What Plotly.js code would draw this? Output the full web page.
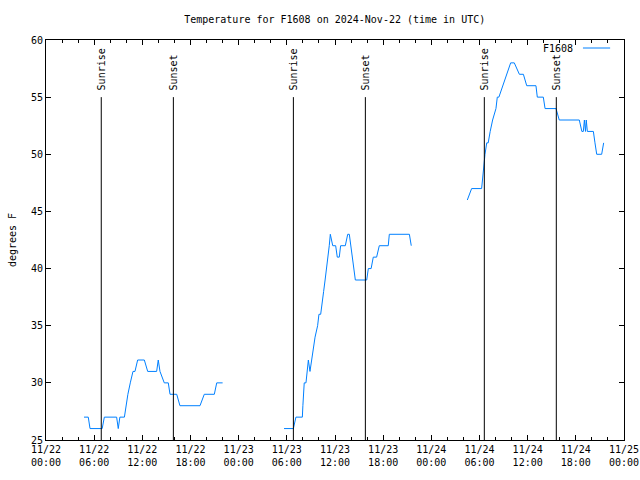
<!DOCTYPE html>
<html>
<head>
<meta charset="utf-8">
<script src="https://cdn.plot.ly/plotly-3.0.1.min.js"></script>
<style>html,body{margin:0;padding:0;background:#fff;}#chart{width:640px;height:480px;}</style>
</head>
<body>
<div id="chart"></div>
<script>
// Temperature readings (F1608), null marks a gap in the record
const times = [
  '2024-11-22 04:44','2024-11-22 05:16','2024-11-22 05:29','2024-11-22 07:00','2024-11-22 07:16','2024-11-22 08:48','2024-11-22 09:00','2024-11-22 09:12','2024-11-22 09:46','2024-11-22 09:58','2024-11-22 10:12','2024-11-22 10:30','2024-11-22 10:50','2024-11-22 11:05','2024-11-22 11:25','2024-11-22 12:15','2024-11-22 12:40','2024-11-22 13:47','2024-11-22 13:59','2024-11-22 14:12','2024-11-22 14:44','2024-11-22 15:14','2024-11-22 15:27','2024-11-22 16:17','2024-11-22 16:41','2024-11-22 19:11','2024-11-22 19:43','2024-11-22 20:58','2024-11-22 21:16','2024-11-22 22:00',
  '2024-11-23 02:00',
  '2024-11-23 05:39','2024-11-23 06:49','2024-11-23 07:08','2024-11-23 07:56','2024-11-23 08:00','2024-11-23 08:03','2024-11-23 08:10','2024-11-23 08:23','2024-11-23 08:33','2024-11-23 08:41','2024-11-23 08:53','2024-11-23 09:05','2024-11-23 09:18','2024-11-23 09:31','2024-11-23 09:50','2024-11-23 10:00','2024-11-23 10:13','2024-11-23 10:26','2024-11-23 10:35','2024-11-23 10:46','2024-11-23 10:58','2024-11-23 11:08','2024-11-23 11:17','2024-11-23 11:25','2024-11-23 11:43','2024-11-23 12:05','2024-11-23 12:17','2024-11-23 12:32','2024-11-23 12:42','2024-11-23 13:17','2024-11-23 13:35','2024-11-23 13:47','2024-11-23 13:57','2024-11-23 14:07','2024-11-23 14:17','2024-11-23 14:32','2024-11-23 15:57','2024-11-23 16:09','2024-11-23 16:30','2024-11-23 16:46','2024-11-23 17:11','2024-11-23 17:31','2024-11-23 18:38','2024-11-23 18:46','2024-11-23 21:16','2024-11-23 21:30',
  '2024-11-24 01:00',
  '2024-11-24 04:29','2024-11-24 05:01','2024-11-24 06:16','2024-11-24 06:23','2024-11-24 06:34','2024-11-24 06:41','2024-11-24 06:54','2024-11-24 07:05','2024-11-24 07:20','2024-11-24 07:38','2024-11-24 08:03','2024-11-24 08:13','2024-11-24 08:25','2024-11-24 08:53','2024-11-24 09:23','2024-11-24 09:53','2024-11-24 10:20','2024-11-24 10:58','2024-11-24 11:28','2024-11-24 11:53','2024-11-24 13:02','2024-11-24 13:12','2024-11-24 13:57','2024-11-24 14:10','2024-11-24 15:32','2024-11-24 15:56','2024-11-24 18:26','2024-11-24 18:45','2024-11-24 18:56','2024-11-24 19:04','2024-11-24 19:12','2024-11-24 19:18','2024-11-24 19:26','2024-11-24 20:11','2024-11-24 20:23','2024-11-24 20:36','2024-11-24 21:13','2024-11-24 21:28'
];
const temps = [
  27,27,26,26,27,27,26,27,27,28,29,30,31,31,32,32,31,31,32,31,30,30,29,29,28,28,29,29,30,30,
  null,
  26,26,27,27,28,29,30,30,31,32,31,32,33,34,35,36,36,37,38,39,40,41,42,43,42,42,41,41,42,42,43,43,42,41,40,39,39,40,40,41,41,42,42,43,43,42,
  null,
  46,47,47,48,49,50,51,51,52,53,54,55,55,56,57,58,58,57,57,56,56,55,55,54,54,53,53,52,52,53,52,53,52,52,51,50,50,51
];
const sunriseTimes = ['2024-11-22 06:53','2024-11-23 06:49','2024-11-24 06:36'];
const sunsetTimes  = ['2024-11-22 15:52','2024-11-23 15:47','2024-11-24 15:34'];
const tickVals = ['2024-11-22 00:00','2024-11-22 06:00','2024-11-22 12:00','2024-11-22 18:00','2024-11-23 00:00','2024-11-23 06:00','2024-11-23 12:00','2024-11-23 18:00','2024-11-24 00:00','2024-11-24 06:00','2024-11-24 12:00','2024-11-24 18:00','2024-11-25 00:00'];
const tickText = ['11/22<br>00:00','11/22<br>06:00','11/22<br>12:00','11/22<br>18:00','11/23<br>00:00','11/23<br>06:00','11/23<br>12:00','11/23<br>18:00','11/24<br>00:00','11/24<br>06:00','11/24<br>12:00','11/24<br>18:00','11/25<br>00:00'];
const yTicks = [25,30,35,40,45,50,55,60];
const seriesName = 'F1608';

const FONT = {family: 'DejaVu Sans Mono, Liberation Mono, monospace', size: 10, color: '#000'};
const LINE_COLOR = 'rgb(0,128,255)';

const shapes = [];
const annotations = [];
function addMarker(t, label) {
  shapes.push({type: 'line', xref: 'x', yref: 'y', x0: t, x1: t, y0: 25, y1: 55,
    line: {color: '#000', width: 1}});
  annotations.push({x: t, y: 55, xref: 'x', yref: 'y', text: label, showarrow: false,
    textangle: -90, xanchor: 'center', yanchor: 'bottom', yshift: 5, font: FONT});
}
sunriseTimes.forEach(t => addMarker(t, 'Sunrise'));
sunsetTimes.forEach(t => addMarker(t, 'Sunset'));

// legend (gnuplot style: text then line sample)
annotations.push({x: 0.915, y: 0.98, xref: 'paper', yref: 'paper', text: seriesName,
  showarrow: false, xanchor: 'right', yanchor: 'middle', font: FONT});
shapes.push({type: 'line', xref: 'paper', yref: 'paper', x0: 0.929, x1: 0.976, y0: 0.98, y1: 0.98,
  line: {color: LINE_COLOR, width: 1}});

const trace = {
  x: times, y: temps, type: 'scatter', mode: 'lines', name: seriesName,
  line: {color: LINE_COLOR, width: 1}, connectgaps: false
};

const layout = {
  width: 640, height: 480,
  margin: {l: 46, r: 16, t: 40, b: 40},
  paper_bgcolor: '#fff', plot_bgcolor: '#fff',
  showlegend: false,
  font: FONT,
  title: {text: 'Temperature for F1608 on 2024-Nov-22 (time in UTC)', font: FONT, x: 0.523, xanchor: 'center', y: 0.96, yanchor: 'middle'},
  xaxis: {
    type: 'date', range: ['2024-11-22 00:00', '2024-11-25 00:00'],
    tickmode: 'array', tickvals: tickVals, ticktext: tickText,
    ticks: 'inside', ticklen: 5, tickcolor: '#000', tickwidth: 1,
    showline: true, linecolor: '#000', linewidth: 1, mirror: 'allticks',
    showgrid: false, zeroline: false, tickfont: FONT,
    minor: {dtick: 7200000, tick0: '2024-11-22 00:00', ticks: 'inside', ticklen: 3, tickcolor: '#000', showgrid: false}
  },
  yaxis: {
    range: [25, 60], tickmode: 'array', tickvals: yTicks, ticktext: yTicks.map(String),
    ticks: 'inside', ticklen: 5, tickcolor: '#000', tickwidth: 1,
    showline: true, linecolor: '#000', linewidth: 1, mirror: 'ticks',
    showgrid: false, zeroline: false, tickfont: FONT,
    title: {text: 'degrees F', font: FONT, standoff: 12}
  },
  shapes: shapes,
  annotations: annotations
};

Plotly.newPlot('chart', [trace], layout, {staticPlot: true, displayModeBar: false});
</script>
</body>
</html>
